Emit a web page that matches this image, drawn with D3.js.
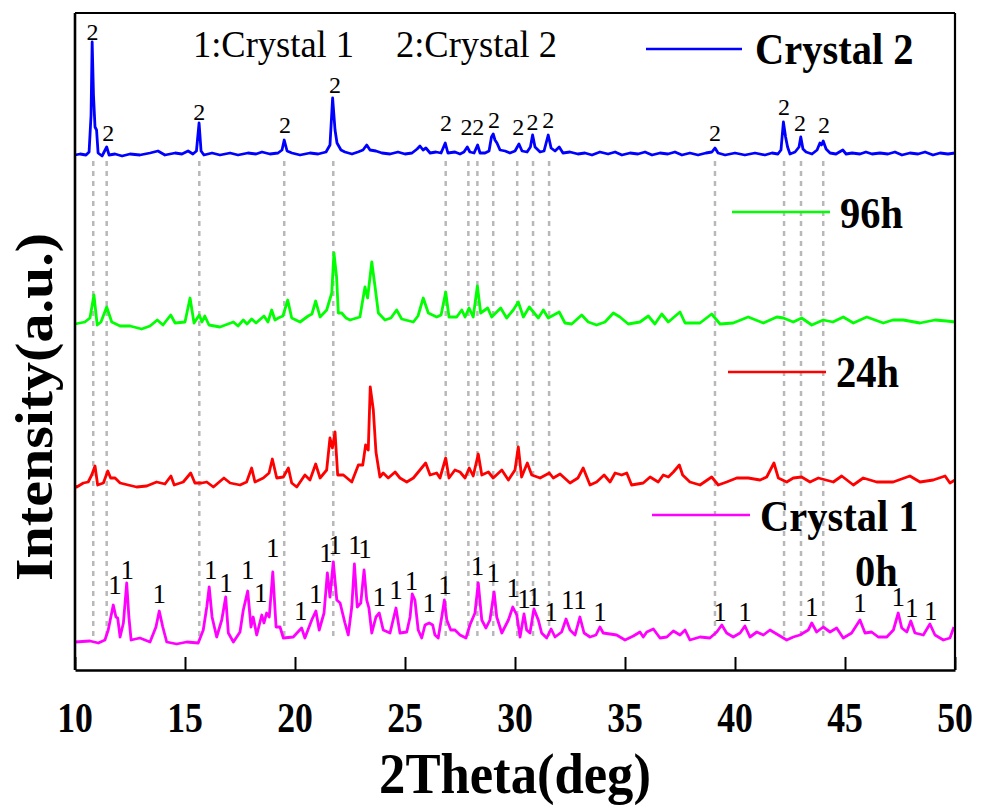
<!DOCTYPE html>
<html>
<head>
<meta charset="utf-8">
<script src="https://cdn.jsdelivr.net/npm/d3@7"></script>
<style>
  html, body { margin: 0; padding: 0; background: #fff; }
  svg { display: block; }
</style>
</head>
<body>
<script>
// ---------------- DATA ----------------
const xTicks = [10, 15, 20, 25, 30, 35, 40, 45, 50];

// Crystal 2 (blue) : [2theta, intensity above its baseline]
const crystal2 = [
 [10.00,0],[10.23,1],[10.50,0],[10.64,3],[10.73,40],[10.78,113],[10.84,60],[10.91,28],[10.98,25],[11.05,2],
 [11.23,-1],[11.44,8],[11.55,0],[11.82,1],[12.14,-1],[12.50,1],[12.95,0],[13.41,2],[13.77,4],[14.09,0],
 [14.55,2],[14.86,1],[15.14,4],[15.36,1],[15.52,4],[15.64,32],[15.73,4],[15.86,0],[16.23,2],[16.59,0],
 [17.05,2],[17.41,0],[17.86,2],[18.23,1],[18.50,3],[18.86,1],[19.23,2],[19.41,5],[19.51,15],[19.64,4],
 [19.86,2],[20.23,0],[20.68,2],[21.05,1],[21.41,3],[21.59,10],[21.71,57],[21.82,25],[21.91,12],[22.09,5],
 [22.27,3],[22.59,1],[22.86,3],[23.09,5],[23.26,10],[23.41,5],[23.68,4],[23.95,2],[24.32,1],[24.68,3],
 [25.00,1],[25.32,2],[25.55,6],[25.68,9],[25.82,5],[25.95,7],[26.14,2],[26.41,3],[26.64,2],[26.83,12],
 [26.95,2],[27.27,3],[27.50,1],[27.68,3],[27.83,8],[27.95,3],[28.14,2],[28.30,10],[28.41,2],[28.64,2],
 [28.82,4],[28.93,18],[29.01,21],[29.09,15],[29.18,12],[29.32,5],[29.55,4],[29.77,2],[30.00,4],[30.18,11],
 [30.32,4],[30.55,3],[30.70,8],[30.80,20],[30.91,8],[31.14,3],[31.32,4],[31.51,20],[31.64,7],[31.82,4],
 [32.01,8],[32.18,2],[32.50,3],[32.86,1],[33.18,2],[33.50,0],[33.86,3],[34.23,1],[34.55,3],[34.86,0],
 [35.23,2],[35.59,1],[35.91,3],[36.23,0],[36.59,2],[36.95,1],[37.27,3],[37.59,0],[37.95,2],[38.32,0],
 [38.68,2],[38.95,3],[39.09,7],[39.23,2],[39.55,0],[40.00,2],[40.45,0],[40.91,2],[41.36,0],[41.68,2],
 [41.95,1],[42.09,5],[42.20,33],[42.30,18],[42.39,8],[42.50,1],[42.73,3],[42.91,8],[42.99,18],[43.09,6],
 [43.23,3],[43.50,1],[43.73,5],[43.86,12],[43.93,10],[44.01,14],[44.14,6],[44.32,2],[44.59,1],[44.90,5],
 [45.05,1],[45.32,2],[45.68,1],[45.95,3],[46.23,1],[46.59,2],[46.95,1],[47.27,3],[47.59,0],[47.95,2],
 [48.32,1],[48.64,3],[49.00,0],[49.32,2],[49.68,1],[50.00,2]
];

// 96h (green)
const h96 = [
 [10.00,0],[10.45,2],[10.68,6],[10.86,29],[11.01,-1],[11.18,2],[11.44,17],[11.67,2],[12.05,-2],[12.50,-2],
 [13.03,-5],[13.41,-2],[13.74,4],[14.00,-1],[14.35,9],[14.55,1],[15.00,2],[15.23,26],[15.41,1],[15.65,9],
 [15.77,2],[15.90,8],[16.09,-1],[16.59,-3],[17.20,2],[17.41,-2],[17.65,4],[17.82,0],[18.03,5],[18.23,1],
 [18.59,8],[18.77,2],[18.94,14],[19.09,4],[19.24,6],[19.45,8],[19.67,24],[19.85,6],[20.23,2],[20.60,8],
 [20.77,10],[20.94,23],[21.14,7],[21.44,14],[21.67,31],[21.77,71],[21.89,47],[21.97,11],[22.12,11],[22.32,6],
 [22.50,4],[22.80,6],[22.95,7],[23.18,37],[23.30,26],[23.49,62],[23.64,37],[23.79,11],[24.09,4],[24.36,6],
 [24.62,14],[24.85,5],[25.38,2],[25.59,8],[25.83,26],[26.06,11],[26.44,7],[26.64,9],[26.85,32],[27.00,7],
 [27.35,7],[27.58,14],[27.73,7],[27.91,16],[28.10,7],[28.29,38],[28.44,11],[28.76,16],[28.94,7],[29.35,16],
 [29.62,6],[29.92,14],[30.15,22],[30.38,7],[30.65,17],[31.06,6],[31.29,14],[31.51,6],[32.01,12],[32.27,1],
 [32.58,0],[33.03,9],[33.33,2],[33.71,-1],[34.09,2],[34.47,11],[34.77,7],[35.15,0],[35.68,2],[36.06,8],
 [36.36,0],[36.67,10],[36.97,2],[37.50,12],[37.73,1],[38.41,1],[38.94,10],[39.32,0],[39.92,1],[40.60,7],
 [41.29,1],[41.90,7],[42.20,6],[42.65,2],[43.03,6],[43.49,-1],[44.01,4],[44.45,2],[44.92,7],[45.38,1],
 [45.99,7],[46.74,1],[47.18,4],[47.65,4],[48.41,1],[49.09,4],[49.62,3],[50.00,2]
];

// 24h (red)
const h24 = [
 [10.00,-1],[10.08,-2],[10.38,2],[10.60,3],[10.76,10],[10.91,19],[11.03,0],[11.29,2],[11.49,14],[11.62,7],
 [11.82,7],[12.05,2],[12.42,0],[12.80,-2],[13.26,-1],[13.71,3],[14.09,1],[14.36,9],[14.51,0],[14.92,3],
 [15.26,12],[15.45,2],[15.76,2],[15.99,3],[16.29,-2],[16.77,7],[17.05,2],[17.50,0],[17.80,3],[18.03,17],
 [18.18,3],[18.56,7],[18.82,12],[18.97,26],[19.17,7],[19.47,8],[19.70,17],[19.85,2],[20.08,-2],[20.45,10],
 [20.68,5],[20.94,21],[21.14,7],[21.44,15],[21.59,47],[21.70,37],[21.82,53],[21.94,10],[22.20,10],[22.58,3],
 [22.88,20],[23.08,20],[23.21,40],[23.33,35],[23.42,98],[23.56,75],[23.68,33],[23.86,8],[24.01,12],[24.24,7],
 [24.55,13],[24.77,7],[25.08,3],[25.38,7],[25.68,15],[25.94,22],[26.14,10],[26.44,12],[26.59,7],[26.85,27],
 [27.00,7],[27.27,15],[27.50,13],[27.73,7],[27.92,17],[28.10,9],[28.33,31],[28.49,10],[28.79,13],[29.01,7],
 [29.40,15],[29.70,5],[30.00,15],[30.15,38],[30.30,8],[30.56,22],[30.76,10],[31.14,7],[31.56,12],[31.74,7],
 [32.05,11],[32.50,2],[32.86,7],[33.10,17],[33.41,0],[33.71,3],[34.05,10],[34.32,3],[34.55,12],[34.85,10],
 [35.08,12],[35.30,0],[35.83,2],[36.14,8],[36.51,3],[36.74,10],[36.97,8],[37.20,13],[37.47,20],[37.62,10],
 [37.95,3],[38.41,0],[38.94,8],[39.24,0],[39.62,3],[40.08,7],[40.60,7],[41.14,5],[41.44,8],[41.77,22],
 [41.97,7],[42.35,3],[42.65,7],[43.03,8],[43.41,3],[43.79,7],[44.47,3],[44.85,9],[45.38,0],[45.83,7],
 [46.44,3],[47.19,3],[47.95,9],[48.41,3],[49.01,5],[49.55,9],[49.77,2],[50.00,5]
];

// Crystal 1 / 0h (magenta)
const crystal1 = [
 [10.00,-1],[10.68,0],[11.06,-2],[11.36,1],[11.51,11],[11.62,23],[11.74,36],[11.86,24],[11.94,23],[12.05,4],
 [12.20,18],[12.35,58],[12.45,24],[12.55,1],[12.95,3],[13.41,-1],[13.68,14],[13.83,30],[13.99,14],[14.17,-1],
 [14.62,-3],[15.08,-1],[15.60,-2],[15.83,11],[15.99,34],[16.10,54],[16.23,24],[16.44,4],[16.67,21],[16.85,44],
 [16.97,8],[17.20,-1],[17.50,9],[17.65,31],[17.85,50],[18.00,14],[18.10,24],[18.26,6],[18.49,26],[18.59,18],
 [18.71,28],[18.83,24],[18.99,69],[19.14,14],[19.32,14],[19.47,3],[19.92,4],[20.30,13],[20.45,3],[20.76,21],
 [20.95,30],[21.10,11],[21.32,28],[21.47,68],[21.59,44],[21.74,79],[21.90,41],[22.05,38],[22.27,18],[22.42,6],
 [22.58,34],[22.70,77],[22.83,34],[22.99,38],[23.14,71],[23.26,41],[23.36,33],[23.49,8],[23.68,24],[23.83,28],
 [24.01,11],[24.32,8],[24.59,33],[24.77,8],[25.08,9],[25.23,24],[25.33,47],[25.45,41],[25.60,11],[25.76,3],
 [25.91,16],[26.10,18],[26.26,16],[26.36,6],[26.51,3],[26.67,24],[26.79,41],[26.90,21],[27.08,11],[27.27,11],
 [27.50,6],[27.77,3],[27.95,16],[28.18,28],[28.33,58],[28.49,21],[28.68,13],[28.86,21],[29.05,49],[29.17,24],
 [29.40,8],[29.70,21],[29.90,34],[30.08,26],[30.23,4],[30.41,27],[30.53,11],[30.68,8],[30.86,32],[31.06,21],
 [31.21,8],[31.44,3],[31.64,12],[31.82,4],[32.12,9],[32.32,22],[32.50,11],[32.73,6],[32.95,24],[33.14,8],
 [33.41,4],[33.68,6],[33.86,14],[34.01,8],[34.32,7],[34.62,6],[35.00,1],[35.38,5],[35.68,9],[35.83,4],
 [35.99,9],[36.29,12],[36.59,3],[36.90,4],[37.20,10],[37.50,6],[37.73,11],[37.95,1],[38.41,4],[38.86,3],
 [39.17,9],[39.40,16],[39.62,8],[39.92,4],[40.23,8],[40.45,15],[40.68,4],[40.99,9],[41.29,6],[41.59,11],
 [41.97,6],[42.35,1],[42.65,4],[42.95,6],[43.33,11],[43.49,18],[43.71,9],[44.01,14],[44.32,9],[44.62,13],
 [44.92,3],[45.30,8],[45.68,21],[45.91,8],[46.21,9],[46.51,4],[46.90,4],[47.20,11],[47.42,28],[47.58,13],
 [47.81,9],[47.99,20],[48.18,8],[48.56,6],[48.86,17],[49.09,6],[49.47,1],[49.77,3],[49.95,14]
];

// Crystal 2 reference peak positions (dashed guide lines)
const refPeaks = [10.83, 11.44, 15.65, 19.51, 21.74, 26.85, 27.88, 28.29, 29.01, 30.10, 30.82, 31.55, 39.09, 42.23, 43.00, 44.01];

// "2" marks over Crystal 2 peaks: [2theta, height]
const marks2 = [
 [10.79,123],[11.51,22],[15.65,43],[19.55,30],[21.82,70],[26.86,32],[27.80,28],[28.33,28],[29.05,35],
 [30.15,28],[30.80,33],[31.51,35],[39.09,22],[42.23,48],[42.95,32],[44.05,30]
];
// "1" marks over Crystal 1 peaks: [2theta, height]
const marks1 = [
 [11.82,56],[12.38,71],[13.83,47],[16.17,71],[16.86,58],[17.85,71],[18.44,48],[18.99,93],[20.26,30],[20.94,47],
 [21.41,88],[21.82,96],[22.73,96],[23.18,92],[23.83,44],[24.59,51],[25.30,60],[26.10,38],[26.82,56],[28.29,75],
 [29.01,68],[29.92,53],[30.41,42],[30.86,44],[31.64,29],[32.40,41],[32.95,41],[33.86,29],[39.32,29],[40.45,29],
 [43.49,34],[45.68,38],[47.42,44],[48.03,33],[48.90,30]
];

const seriesNames = ["Crystal 2", "96h", "24h", "Crystal 1"];

// ---------------- LAYOUT ----------------
const W = 981, H = 805;
const plot = { left: 75, right: 955, top: 13, bottom: 670 };
const offsets = { c2: 515, h96: 346, h24: 185, c1: 29 };   // vertical stacking offsets (a.u.)
const colors = { c2: "#0000ff", h96: "#00ff00", h24: "#ff0000", c1: "#ff00ff" };
const serif = "'Liberation Serif', 'Times New Roman', Times, serif";

const svg = d3.select("body").append("svg").attr("width", W).attr("height", H);

const x = d3.scaleLinear().domain([10, 50]).range([plot.left, plot.right]);
const y = d3.scaleLinear().domain([0, plot.bottom - plot.top]).range([plot.bottom, plot.top]);

function txt(g, px, py, s, size, weight, anchor, sx, rot, sy) {
  const t = g.append("text")
    .attr("transform", `translate(${px},${py})` + (rot ? ` rotate(${rot})` : "") + ` scale(${sx},${sy || 1})`)
    .attr("text-anchor", anchor)
    .style("font-family", serif)
    .style("font-size", size + "px")
    .style("font-weight", weight)
    .attr("fill", "#000")
    .text(s);
  return t;
}

// dashed guide lines
svg.append("g").selectAll("line").data(refPeaks).join("line")
  .attr("x1", d => x(d)).attr("x2", d => x(d))
  .attr("y1", y(offsets.c2 - 6)).attr("y2", y(offsets.c1 + 4))
  .attr("stroke", "#b8b8b8").attr("stroke-width", 2.5)
  .attr("stroke-dasharray", "5,5");

// curves
const line = off => d3.line().x(d => x(d[0])).y(d => y(d[1] + off));
const curves = [
  { data: crystal1, key: "c1" },
  { data: h24, key: "h24" },
  { data: h96, key: "h96" },
  { data: crystal2, key: "c2" }
];
curves.forEach(c => {
  svg.append("path").datum(c.data)
    .attr("d", line(offsets[c.key]))
    .attr("fill", "none")
    .attr("stroke", colors[c.key])
    .attr("stroke-width", 2.8)
    .attr("stroke-linejoin", "round");
});

// peak marks
const mk = svg.append("g");
marks2.forEach(m => txt(mk, x(m[0]), y(m[1] + offsets.c2) + 8, "2", 24, "normal", "middle", 1));
marks1.forEach(m => txt(mk, x(m[0]), y(m[1] + offsets.c1) + 9, "1", 27, "normal", "middle", 1));

// frame
const fr = svg.append("g");
fr.append("line").attr("x1", plot.left).attr("x2", plot.right).attr("y1", plot.top).attr("y2", plot.top)
  .attr("stroke", "#000").attr("stroke-width", 2.2);
fr.append("line").attr("x1", plot.right).attr("x2", plot.right).attr("y1", plot.top).attr("y2", plot.bottom)
  .attr("stroke", "#000").attr("stroke-width", 2.2);
fr.append("line").attr("x1", plot.left).attr("x2", plot.left).attr("y1", plot.top).attr("y2", plot.bottom)
  .attr("stroke", "#000").attr("stroke-width", 2.6);

// x axis
const xAxis = d3.axisBottom(x).tickValues(xTicks).tickSizeInner(-13).tickSizeOuter(0).tickFormat("");
const gx = svg.append("g").attr("transform", `translate(0,${plot.bottom})`).call(xAxis);
gx.select(".domain").attr("stroke", "#000").attr("stroke-width", 2.6);
gx.selectAll(".tick line").attr("stroke", "#000").attr("stroke-width", 2);
const tl = svg.append("g");
xTicks.forEach(v => txt(tl, x(v), 732, String(v), 42, "bold", "middle", 0.85));

// axis titles
txt(svg, 515, 793, "2Theta(deg)", 56, "bold", "middle", 0.94);
txt(svg, 52, 407, "Intensity(a.u.)", 58, "bold", "middle", 1, -90, 0.92);

// annotations
txt(svg, 193, 57, "1:Crystal 1", 38, "normal", "start", 0.96);
txt(svg, 396, 57, "2:Crystal 2", 38, "normal", "start", 0.96);

// legends
const legends = [
  { name: seriesNames[0], key: "c2", x1: 646, x2: 742, ly: 49, tx: 755, ty: 64 },
  { name: seriesNames[1], key: "h96", x1: 732, x2: 830, ly: 212, tx: 840, ty: 228 },
  { name: seriesNames[2], key: "h24", x1: 728, x2: 826, ly: 372, tx: 836, ty: 387 },
  { name: seriesNames[3], key: "c1", x1: 652, x2: 750, ly: 515, tx: 760, ty: 531 }
];
const lg = svg.append("g");
legends.forEach(l => {
  lg.append("line").attr("x1", l.x1).attr("x2", l.x2).attr("y1", l.ly).attr("y2", l.ly)
    .attr("stroke", colors[l.key]).attr("stroke-width", 2.6);
  txt(lg, l.tx, l.ty, l.name, 44, "bold", "start", 0.92);
});
txt(lg, 855, 586, "0h", 44, "bold", "start", 0.92);
</script>
</body>
</html>
